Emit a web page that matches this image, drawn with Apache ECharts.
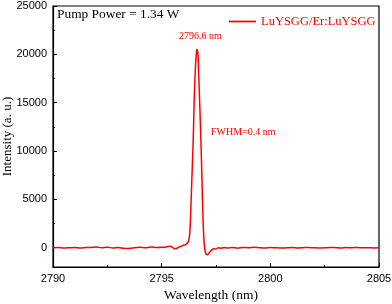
<!DOCTYPE html>
<html><head><meta charset="utf-8">
<script src="https://cdn.jsdelivr.net/npm/echarts@6/dist/echarts.min.js"></script>
<style>html,body{margin:0;padding:0;background:#fff}#c{width:392px;height:304px}</style>
</head><body><div id="c"></div>
<script>
const wavelength = [2790,2790.25,2790.5,2790.75,2791,2791.25,2791.5,2791.75,2792,2792.25,2792.5,2792.75,2793,2793.25,2793.5,2793.75,2794,2794.25,2794.5,2794.75,2795,2795.2,2795.4,2795.5,2795.6,2795.7,2795.8,2795.9,2796.0,2796.1,2796.15,2796.2,2796.25,2796.3,2796.35,2796.4,2796.45,2796.5,2796.55,2796.6,2796.63,2796.67,2796.7,2796.75,2796.8,2796.85,2796.9,2796.95,2797.0,2797.05,2797.1,2797.15,2797.2,2797.3,2797.4,2797.5,2797.6,2797.75,2797.9,2798,2798.25,2798.5,2798.75,2799,2799.25,2799.5,2799.75,2800,2800.25,2800.5,2800.75,2801,2801.25,2801.5,2801.75,2802,2802.25,2802.5,2802.75,2803,2803.25,2803.5,2803.75,2804,2804.25,2804.5,2804.75,2805];
const intensity = [-20,10,-40,-10,20,-30,10,30,60,0,40,-30,20,-60,-80,0,40,-20,60,30,50,80,150,40,-130,-60,60,150,250,320,420,520,800,1700,4500,7800,11000,15500,18500,20200,20500,20000,18200,15000,11500,7500,3200,600,-350,-680,-720,-650,-500,-250,-100,-150,-20,-60,30,-40,20,-50,30,-20,40,0,-30,20,-10,-40,-20,10,-30,0,20,-10,-40,-20,20,0,-30,10,-10,20,-20,0,-30,-20];
const seriesName = 'LuYSGG/Er:LuYSGG';
const yMajor = [0,5000,10000,15000,20000,25000];
const yMinor = [2500,7500,12500,17500,22500];

const chart = echarts.init(document.getElementById('c'), null, {renderer:'canvas'});
const serif = 'Liberation Serif';
const sans = 'Liberation Sans';
const yBase = {
  type:'value', min:-2000, max:25000, gridIndex:0,
  splitLine:{show:false}
};
chart.setOption({
  animation:false,
  backgroundColor:'#fff',
  grid:{left:53, right:13, top:6, bottom:37, show:true, borderColor:'#000', borderWidth:1.2,
        containLabel:false, outerBoundsMode:'none'},
  legend:{
    left:224, top:10, itemWidth:27, itemHeight:14, itemGap:4,
    data:[seriesName],
    textStyle:{fontFamily:serif, fontSize:12.5, color:'#ff0000'},
    icon:'path://M0,0 L30,0 L30,2 L0,2 Z'
  },
  xAxis:{
    type:'value', min:2790, max:2805, interval:5,
    name:'Wavelength (nm)', nameLocation:'middle', nameGap:21, nameMoveOverlap:false,
    nameTextStyle:{fontFamily:serif, fontSize:13.5, color:'#000', padding:[0,10,0,0]},
    axisLine:{onZero:false, lineStyle:{color:'#000', width:1.2}},
    axisTick:{inside:true, length:4, lineStyle:{color:'#000'}},
    minorTick:{show:true, splitNumber:2, length:2, lineStyle:{color:'#000'}},
    axisLabel:{fontFamily:sans, fontSize:11, color:'#000', margin:6, formatter:v=>String(v)},
    splitLine:{show:false}
  },
  yAxis:[
    Object.assign({}, yBase, {
      name:'Intensity (a. u.)', nameLocation:'middle', nameGap:39, nameMoveOverlap:false,
      nameTextStyle:{fontFamily:serif, fontSize:13, color:'#000'},
      axisLine:{onZero:false, lineStyle:{color:'#000', width:1.2}},
      axisTick:{inside:true, length:4, customValues:yMajor, lineStyle:{color:'#000'}},
      axisLabel:{fontFamily:sans, fontSize:11, color:'#000', margin:6, customValues:yMajor, formatter:v=>String(v)}
    }),
    Object.assign({}, yBase, {
      position:'left',
      axisLine:{show:false},
      axisTick:{inside:true, length:2, customValues:yMinor, lineStyle:{color:'#000'}},
      axisLabel:{show:false, customValues:yMinor}
    })
  ],
  graphic:[
    {type:'text', left:57, top:8, style:{text:'Pump Power = 1.34 W', font:'13.4px "Liberation Serif"', fill:'#000'}},
    {type:'text', left:179, top:31, style:{text:'2796.6 nm', font:'10px "Liberation Serif"', fill:'#ff0000'}},
    {type:'text', left:211, top:127, style:{text:'FWHM=0.4 nm', font:'10px "Liberation Serif"', fill:'#ff0000'}}
  ],
  series:[{
    name:seriesName, type:'line', yAxisIndex:0, symbol:'none', smooth:0.3,
    lineStyle:{color:'#ff0000', width:1.5}, itemStyle:{color:'#ff0000'},
    data: wavelength.map((w,i)=>[w,intensity[i]])
  }]
});
</script></body></html>
